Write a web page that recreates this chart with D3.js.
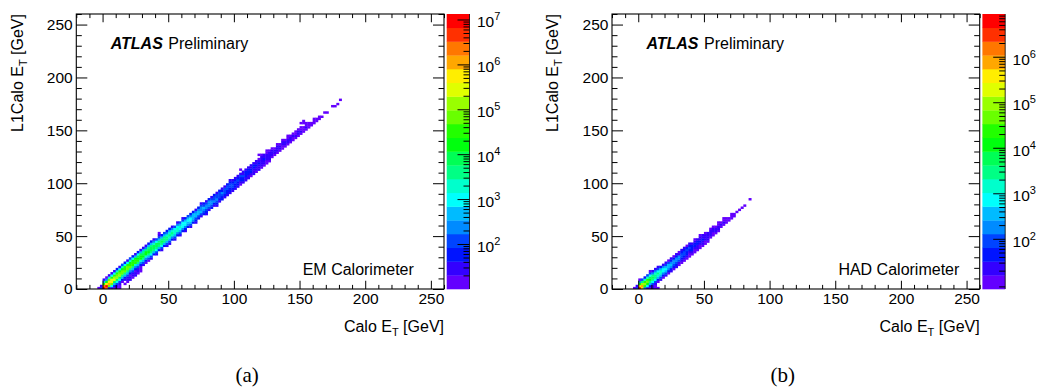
<!DOCTYPE html>
<html><head><meta charset="utf-8">
<script src="https://cdn.jsdelivr.net/npm/d3@7"></script>
<style>
body{margin:0;background:#fff}
svg{display:block}
text{font-family:"Liberation Sans",Arial,Helvetica,sans-serif;fill:#000}
</style>
</head><body>
<svg id="c" width="1037" height="387"></svg>
<script>
// ---------------- data ----------------
const xTicksMajor = [0, 50, 100, 150, 200, 250];
const yTicksMajor = [0, 50, 100, 150, 200, 250];
const xDomain = [-20, 260];
const yDomain = [0, 260];
const binWidth = 2;
// colour level of each cell (20 log-spaced contours, '0' lowest .. 'j' highest, '.' empty)
const levelChars = "0123456789abcdefghij";

const emZRange = [10.2, 1.36e7];
const emZTicks = [1e2, 1e3, 1e4, 1e5, 1e6, 1e7];
const hadZRange = [8.1, 8.9e6];
const hadZTicks = [1e2, 1e3, 1e4, 1e5, 1e6];

// [Calo ET bin (GeV), first L1Calo ET bin (GeV), levels going up in 2 GeV steps]
const emCols = [
  [-4,0,"0"],[-2,0,"31"],[0,0,"jhb51"],[2,0,"hjfa40"],[4,0,"2cgfc71"],
  [6,0,"16cfeb61"],[8,0,"0259edb61"],[10,2,"1369dcb72"],[12,4,"1369dcb61"],
  [14,6,"0258cca73"],[16,8,"1258cbb62"],[18,10,"1358ccb61"],[20,12,"0248cba73"],
  [22,14,"1358bba62"],[24,16,"0247bba51"],[26,18,"1358ba962"],[28,20,"0247aa951"],
  [30,22,"1358a9851"],[32,24,"0247aa841"],[34,26,"0358a9852"],[36,28,"136899852"],
  [38,32,"25899741"],[40,32,"13689963"],[42,36,"25898531"],[44,36,"13689852"],
  [46,40,"2588853"],[48,40,"13588742"],[50,42,"13578752"],[52,46,"2478741"],
  [54,46,"1357763"],[56,50,"2477641"],[58,50,"1356753"],[60,54,"2466631"],
  [62,54,"1246652"],[64,58,"245653"],[66,58,"1356642"],[68,62,"245552"],
  [70,62,"1235541"],[72,66,"235542"],[74,68,"1354431"],[76,70,"234532"],
  [78,70,"1234431"],[80,74,"134442"],[82,76,"234431"],[84,78,"124332"],
  [86,78,"1234331"],[88,82,"123332"],[90,84,"223421"],[92,86,"123331"],
  [94,88,"122332"],[96,90,"1223321"],[98,92,"123321"],[100,94,"122321"],
  [102,96,"122321"],[104,98,"012231"],[106,100,"122311"],[108,102,"112221"],
  [110,104,"112221"],[112,106,"012211"],[114,108,"111221"],[116,110,"011211"],
  [118,112,"111210"],[120,114,"0111110"],[122,116,"011211"],[124,118,"001110"],
  [126,120,"011110"],[128,124,"01110"],[130,126,"0110"],[132,128,"01110"],
  [134,130,"0110"],[136,132,"00110"],[138,134,"0110"],[140,136,"01100"],
  [142,138,"0110"],[144,140,"0010"],[146,142,"0100"],[148,144,"0110"],
  [150,146,"0100"],[152,148,"000"],[154,150,"0100"],[156,152,"000"],
  [158,154,"00"],[160,156,"000"],[162,158,"00"],[164,160,"00"],[166,162,"0"],
  [168,164,".0"],[170,166,"0"],[174,172,"0"],[176,172,"0"],[178,174,"0"],[180,178,"0"]
];
// isolated cells [Calo ET, L1Calo ET, level]
const emExtra = [
  [16,4,0],[18,6,0],[18,8,1],[20,8,1],[20,10,1],[22,10,0],[22,12,1],[24,12,1],
  [24,14,1],[26,14,0],[26,16,1],[28,16,0],[28,18,0],[10,0,0],[12,0,0],[12,2,0],
  [42,52,0],[104,112,0],[118,126,0],[124,130,0],[150,156,0],[152,156,0],[152,158,0]
];

const hadCols = [
  [-2,0,"31"],[0,0,"jfa40"],[2,0,"fgd83"],[4,0,"4bdb72"],[6,0,"16acb73"],
  [8,0,"0258a9630"],[10,2,"13689841"],[12,4,"13688741"],[14,6,"02578631"],
  [16,8,"1357752"],[18,10,"0246641"],[20,12,"1356531"],[22,14,"0245530"],
  [24,16,"1245421"],[26,18,"0234420"],[28,20,"1234421"],[30,22,"0134410"],
  [32,24,"0123321"],[34,26,"0123321"],[36,28,"0122320"],[38,30,"0012321"],
  [40,32,"012221"],[42,34,"0012210"],[44,36,"011221"],[46,38,"0012110"],
  [48,40,"011211"],[50,42,"001110"],[52,44,"01111"],[54,48,"01110"],
  [56,50,"00110"],[58,52,"0110"],[60,54,"01100"],[62,58,"010"],[64,60,"0100"],
  [66,62,"000"],[68,64,"00"],[70,66,"000"],[72,68,"00"],[74,72,"0"],
  [76,74,"0"],[78,76,"0"],[80,78,"0"],[84,84,"0"]
];
const hadExtra = [[10,0,1],[12,0,0],[12,2,0],[14,0,0],[-4,0,0]];

const panelLabels = ["EM Calorimeter", "HAD Calorimeter"];
const captions = ["(a)", "(b)"];

// ---------------- drawing ----------------
const svg = d3.select("#c");
const FW = 367.7, FT = 14, FB = 289;
const palette = d3.range(20).map(j => {
  const idx = Math.floor((j + 0.99) * 50 / 20);
  const hue = 280 - (idx + 1) * 5.6;
  return d3.hsl(hue, 1, 0.5).formatHex();
});

const panels = [
  {id: 0, left: 76.3, zRange: emZRange, zTicks: emZTicks, cols: emCols, extra: emExtra},
  {id: 1, left: 612.0, zRange: hadZRange, zTicks: hadZTicks, cols: hadCols, extra: hadExtra}
];

function drawPanel(p) {
  const x = d3.scaleLinear().domain(xDomain).range([p.left, p.left + FW]);
  const y = d3.scaleLinear().domain(yDomain).range([FB, FT]);
  const zNorm = d3.scaleLog().domain(p.zRange).range([0, 1]);
  const zPos = d3.scaleLog().domain(p.zRange).range([FB, FT]);

  const cells = [];
  p.cols.forEach(([cx, y0, s]) => {
    [...s].forEach((ch, i) => {
      const k = levelChars.indexOf(ch);
      if (k >= 0) cells.push({x: cx, y: y0 + i * binWidth, v: zNorm.invert((k + 0.5) / 20)});
    });
  });
  p.extra.forEach(([cx, cy, k]) => cells.push({x: cx, y: cy, v: zNorm.invert((k + 0.5) / 20)}));

  const clipId = "clip" + p.id;
  svg.append("clipPath").attr("id", clipId).append("rect")
    .attr("x", p.left).attr("y", FT).attr("width", FW).attr("height", FB - FT);

  svg.append("g").attr("clip-path", `url(#${clipId})`)
    .selectAll("rect").data(cells).join("rect")
    .attr("x", d => x(d.x))
    .attr("y", d => y(d.y + binWidth))
    .attr("width", d => x(d.x + binWidth) - x(d.x) + 0.35)
    .attr("height", d => y(d.y) - y(d.y + binWidth) + 0.35)
    .attr("fill", d => palette[Math.max(0, Math.min(19, Math.floor(zNorm(d.v) * 20)))]);

  // axes
  const xMinor = d3.range(-20, 261, 10).filter(v => !xTicksMajor.includes(v));
  const yMinor = d3.range(0, 261, 10).filter(v => !yTicksMajor.includes(v));
  const styleAxis = g => { g.select(".domain").remove(); g.selectAll("line").attr("stroke", "#000").attr("stroke-width", 1); g.selectAll("text").attr("font-size", "15.5px").attr("font-family", "Liberation Sans, Arial, sans-serif"); };

  svg.append("g").attr("transform", `translate(0,${FB})`)
    .call(d3.axisBottom(x).tickValues(xTicksMajor).tickSizeInner(-8.25).tickSizeOuter(0).tickPadding(4).tickFormat(d3.format("d")))
    .call(styleAxis);
  svg.append("g").attr("transform", `translate(0,${FB})`)
    .call(d3.axisBottom(x).tickValues(xMinor).tickSizeInner(-4.1).tickSizeOuter(0).tickFormat(""))
    .call(styleAxis);
  svg.append("g").attr("transform", `translate(0,${FT})`)
    .call(d3.axisTop(x).tickValues(xTicksMajor).tickSizeInner(-8.25).tickSizeOuter(0).tickFormat(""))
    .call(styleAxis);
  svg.append("g").attr("transform", `translate(0,${FT})`)
    .call(d3.axisTop(x).tickValues(xMinor).tickSizeInner(-4.1).tickSizeOuter(0).tickFormat(""))
    .call(styleAxis);
  svg.append("g").attr("transform", `translate(${p.left},0)`)
    .call(d3.axisLeft(y).tickValues(yTicksMajor).tickSizeInner(-11).tickSizeOuter(0).tickPadding(3.6).tickFormat(d3.format("d")))
    .call(styleAxis);
  svg.append("g").attr("transform", `translate(${p.left},0)`)
    .call(d3.axisLeft(y).tickValues(yMinor).tickSizeInner(-5.5).tickSizeOuter(0).tickFormat(""))
    .call(styleAxis);
  svg.append("g").attr("transform", `translate(${p.left + FW},0)`)
    .call(d3.axisRight(y).tickValues(yTicksMajor).tickSizeInner(-11).tickSizeOuter(0).tickFormat(""))
    .call(styleAxis);
  svg.append("g").attr("transform", `translate(${p.left + FW},0)`)
    .call(d3.axisRight(y).tickValues(yMinor).tickSizeInner(-5.5).tickSizeOuter(0).tickFormat(""))
    .call(styleAxis);

  // frame
  svg.append("rect").attr("x", p.left).attr("y", FT).attr("width", FW).attr("height", FB - FT)
    .attr("fill", "none").attr("stroke", "#000").attr("stroke-width", 1.1);

  // colour bar
  const cbL = p.left + FW + 2.7, cbW = 22.8, cbR = cbL + cbW;
  const bands = d3.range(20).map(k => ({k, lo: zNorm.invert(k / 20), hi: zNorm.invert((k + 1) / 20)}));
  svg.append("g").selectAll("rect").data(bands).join("rect")
    .attr("x", cbL).attr("width", cbW)
    .attr("y", d => zPos(d.hi)).attr("height", d => zPos(d.lo) - zPos(d.hi) + 0.3)
    .attr("fill", d => palette[d.k]);
  const [zmin, zmax] = p.zRange;
  const minor = [];
  for (let e = Math.floor(Math.log10(zmin)); e <= Math.ceil(Math.log10(zmax)); e++)
    for (let m = 2; m <= 9; m++) { const v = m * Math.pow(10, e); if (v >= zmin && v <= zmax) minor.push(v); }
  const cg = svg.append("g");
  cg.append("line").attr("x1", cbR).attr("x2", cbR).attr("y1", FT).attr("y2", FB).attr("stroke", "#000").attr("stroke-width", 0.8);
  cg.selectAll(".mn").data(minor).join("line")
    .attr("x1", cbR).attr("x2", cbR - 6).attr("y1", d => zPos(d)).attr("y2", d => zPos(d))
    .attr("stroke", "#000").attr("stroke-width", 1);
  cg.selectAll(".mj").data(p.zTicks).join("line")
    .attr("x1", cbR).attr("x2", cbR - 12).attr("y1", d => zPos(d)).attr("y2", d => zPos(d))
    .attr("stroke", "#000").attr("stroke-width", 1);
  const lab = cg.selectAll(".lb").data(p.zTicks).join("text")
    .attr("x", cbR + 7.4).attr("y", d => zPos(d) + 7.5).attr("font-size", "15.5px");
  lab.append("tspan").text("10");
  lab.append("tspan").attr("font-size", "11px").attr("dy", -7).text(d => Math.round(Math.log10(d)));

  // texts
  const at = svg.append("text").attr("x", p.left + 34.4).attr("y", 49).attr("font-size", "16px");
  at.append("tspan").attr("font-weight", "bold").attr("font-style", "italic").text("ATLAS");
  at.append("tspan").attr("dx", 1).text(" Preliminary");

  svg.append("text").attr("x", p.left + 226.4).attr("y", 275).attr("font-size", "16px").text(panelLabels[p.id]);

  const xt = svg.append("text").attr("x", p.left + FW).attr("y", 331.5).attr("text-anchor", "end").attr("font-size", "16px");
  xt.append("tspan").text("Calo E");
  xt.append("tspan").attr("font-size", "11px").attr("dy", 4).text("T");
  xt.append("tspan").attr("dy", -4).text(" [GeV]");

  const yt = svg.append("text").attr("transform", `translate(${p.left - 53.6},${FT}) rotate(-90)`)
    .attr("text-anchor", "end").attr("font-size", "16px");
  yt.append("tspan").text("L1Calo E");
  yt.append("tspan").attr("font-size", "11px").attr("dy", 4).text("T");
  yt.append("tspan").attr("dy", -4).text(" [GeV]");

  svg.append("text").attr("x", p.left + 170.8).attr("y", 382).attr("text-anchor", "middle")
    .style("font-family", "'Liberation Serif','Times New Roman',serif")
    .attr("font-size", "21px").text(captions[p.id]);
}

panels.forEach(drawPanel);
</script>
</body></html>
